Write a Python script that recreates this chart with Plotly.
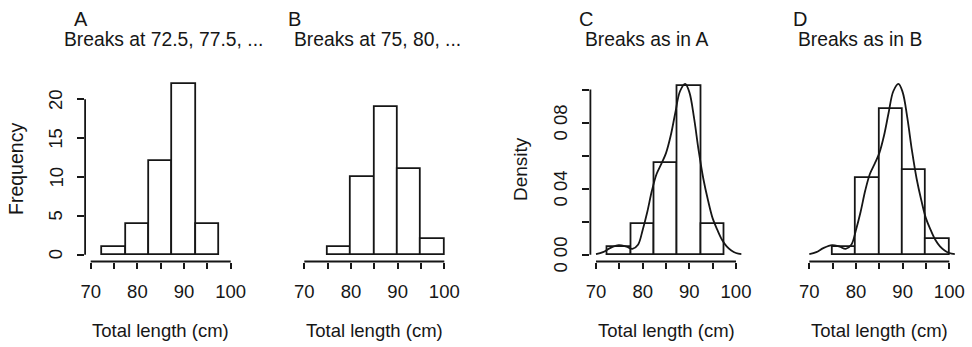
import plotly.graph_objects as go

# ---------------- data ----------------
breaks_a = [72.5, 77.5, 82.5, 87.5, 92.5, 97.5]
counts_a = [1, 4, 12, 22, 4]
breaks_b = [75, 80, 85, 90, 95, 100]
counts_b = [1, 10, 19, 11, 2]

# kernel density estimate
dens_x = [70.0, 71.5, 73.0, 74.9, 76.5, 77.8, 79.0, 80.0, 81.0, 82.0, 83.0,
          84.0, 85.0, 86.0, 87.0, 88.0, 89.1, 90.0, 91.0, 92.0, 93.0, 94.0,
          95.0, 96.0, 97.0, 98.0, 99.0, 100.0, 101.2]
dens_y = [0.0003, 0.0015, 0.0040, 0.0058, 0.0048, 0.0035, 0.0060, 0.0150,
          0.0260, 0.0390, 0.0490, 0.0550, 0.0615, 0.0720, 0.0860, 0.0990,
          0.1035, 0.0985, 0.0830, 0.0630, 0.0460, 0.0330, 0.0220, 0.0150,
          0.0090, 0.0050, 0.0025, 0.0010, 0.0003]

x_ticks = [70, 75, 80, 85, 90, 95, 100]
x_ticktext = ["70", "", "80", "", "90", "", "100"]
freq_ticks = [0, 5, 10, 15, 20]
freq_ticktext = ["0", "5", "10", "15", "20"]
dens_ticks = [0, 0.02, 0.04, 0.06, 0.08, 0.10]
dens_ticktext = ["0 00", "", "0 04", "", "0 08", ""]

panel_letters = ["A", "B", "C", "D"]
panel_titles = ["Breaks at 72.5, 77.5, ...", "Breaks at 75, 80, ...",
                "Breaks as in A", "Breaks as in B"]
x_title = "Total length (cm)"

# ---------------- style ----------------
W, H = 972, 347
INK = "#161616"
FONT = "Liberation Sans, Arial, Helvetica, sans-serif"
FS = 18.5
LW = 1.8

x_dom_px = [(85.1, 236.3), (298.7, 449.9), (590.4, 741.6), (803.7, 954.9)]
title_left_offset_px = [-22.5, -6.0, -6.5, -6.5]
y_top_px, y_bot_px = 77.0, 261.5
y_dom = [1 - y_bot_px / H, 1 - y_top_px / H]


def mids(b):
    return [(b[i] + b[i + 1]) / 2 for i in range(len(b) - 1)]


def widths(b):
    return [b[i + 1] - b[i] for i in range(len(b) - 1)]


n_a = sum(counts_a)
n_b = sum(counts_b)
dens_a = [c / (n_a * w) for c, w in zip(counts_a, widths(breaks_a))]
dens_b = [c / (n_b * w) for c, w in zip(counts_b, widths(breaks_b))]

fig = go.Figure()

panels = [
    (breaks_a, counts_a, False),
    (breaks_b, counts_b, False),
    (breaks_a, dens_a, True),
    (breaks_b, dens_b, True),
]

for i, (br, vals, with_curve) in enumerate(panels):
    xa = "x" if i == 0 else f"x{i+1}"
    ya = "y" if i == 0 else f"y{i+1}"
    fig.add_trace(go.Bar(
        x=mids(br), y=vals, width=widths(br),
        marker=dict(color="white", line=dict(color=INK, width=LW)),
        xaxis=xa, yaxis=ya, showlegend=False, hoverinfo="skip"))
    if with_curve:
        fig.add_trace(go.Scatter(
            x=dens_x, y=dens_y, mode="lines",
            line=dict(color=INK, width=LW, shape="spline", smoothing=1.0),
            xaxis=xa, yaxis=ya, showlegend=False, hoverinfo="skip"))

layout = dict(
    width=W, height=H, margin=dict(l=0, r=0, t=0, b=0, autoexpand=False),
    paper_bgcolor="white", plot_bgcolor="white",
    font=dict(family=FONT, size=FS, color=INK),
    bargap=0, showlegend=False,
)

freq_max = max(max(counts_a), max(counts_b))
dens_max = max(dens_y)
freq_range = [-0.04 * freq_max, 1.04 * freq_max]
dens_range = [-0.04 * dens_max, 1.04 * dens_max]
x_range = [x_ticks[0] - 0.04 * (x_ticks[-1] - x_ticks[0]),
           x_ticks[-1] + 0.04 * (x_ticks[-1] - x_ticks[0])]

shapes = []
annotations = []
for i in range(4):
    xk = "xaxis" if i == 0 else f"xaxis{i+1}"
    yk = "yaxis" if i == 0 else f"yaxis{i+1}"
    xref = "x" if i == 0 else f"x{i+1}"
    yref = "y" if i == 0 else f"y{i+1}"
    dom = [x_dom_px[i][0] / W, x_dom_px[i][1] / W]
    layout[xk] = dict(
        domain=dom, range=x_range, anchor=yref, automargin=False,
        showgrid=False, zeroline=False, showline=False,
        tickmode="array", tickvals=x_ticks, ticktext=x_ticktext,
        ticks="outside", ticklen=6, tickwidth=LW, tickcolor=INK,
        ticklabelstandoff=7, fixedrange=True,
    )
    is_dens = i >= 2
    yr = dens_range if is_dens else freq_range
    show_y = i in (0, 2)
    ya = dict(
        domain=y_dom, range=yr, anchor=xref, automargin=False,
        showgrid=False, zeroline=False, showline=False, fixedrange=True,
        showticklabels=False,
    )
    if show_y:
        tv = dens_ticks if is_dens else freq_ticks
        tt = dens_ticktext if is_dens else freq_ticktext
        ya.update(tickmode="array", tickvals=tv,
                  ticks="outside", ticklen=7, tickwidth=LW, tickcolor=INK)
        shapes.append(dict(type="line", xref=f"{xref} domain", yref=yref,
                           x0=0, x1=0, y0=tv[0], y1=tv[-1],
                           line=dict(color=INK, width=LW)))
        # rotated tick labels (parallel to the axis, as in base R)
        for v, t in zip(tv, tt):
            if t:
                annotations.append(dict(
                    text=t, xref=f"{xref} domain", x=0, xshift=-29.5,
                    xanchor="center", yref=yref, y=v, yanchor="middle",
                    textangle=-90, showarrow=False, font=dict(size=FS)))
    else:
        ya.update(ticks="")
    layout[yk] = ya
    # x axis line spanning first to last tick
    shapes.append(dict(type="line", xref=xref, yref=f"{yref} domain",
                       x0=x_ticks[0], x1=x_ticks[-1], y0=0, y1=0,
                       line=dict(color=INK, width=LW)))
    # panel letter
    annotations.append(dict(text=panel_letters[i], xref=f"{xref} domain",
                            x=0, xshift=-13, xanchor="left",
                            yref="paper", y=1 - 19 / H, yanchor="middle",
                            showarrow=False, font=dict(size=20)))
    # title
    annotations.append(dict(text=panel_titles[i], xref=f"{xref} domain",
                            x=0, xanchor="left",
                            xshift=title_left_offset_px[i] - 1,
                            yref="paper", y=1 - 39.5 / H, yanchor="middle",
                            showarrow=False, font=dict(size=19.3)))
    # x title
    annotations.append(dict(text=x_title, xref=f"{xref} domain",
                            x=0.5, xanchor="center",
                            yref="paper", y=1 - 330 / H, yanchor="middle",
                            showarrow=False, font=dict(size=18.5)))

annotations.append(dict(text="Frequency", xref="paper", x=16 / W,
                        xanchor="center", yref="paper", y=1 - 169 / H,
                        yanchor="middle", textangle=-90, showarrow=False,
                        font=dict(size=19.5)))
annotations.append(dict(text="Density", xref="paper", x=520 / W,
                        xanchor="center", yref="paper", y=1 - 169 / H,
                        yanchor="middle", textangle=-90, showarrow=False,
                        font=dict(size=19)))

layout["shapes"] = shapes
layout["annotations"] = annotations
fig.update_layout(**layout)

fig.write_html("out.html")
